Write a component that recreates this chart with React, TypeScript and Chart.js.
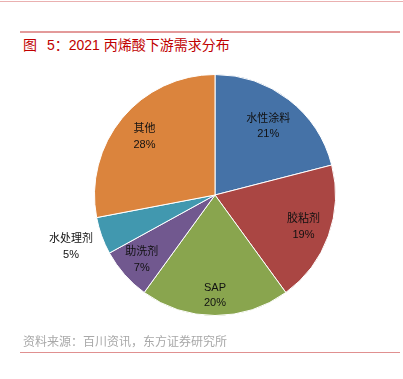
import React, { useEffect, useRef } from "react";
import { Chart, registerables } from "chart.js";

Chart.register(...registerables);

const categories = ["水性涂料", "胶粘剂", "SAP", "助洗剂", "水处理剂", "其他"];
const values = [21, 19, 20, 7, 5, 28];
const colors = ["#4572a7", "#aa4643", "#89a54e", "#71588f", "#4198af", "#db843d"];
const titlePrefix = "图";
const titleText = "5：2021 丙烯酸下游需求分布";
const sourceText = "资料来源：百川资讯，东方证券研究所";

// label placement (style): fraction of the radius for each slice's label
const labelRadiusFactor = [0.72, 0.78, 0.83, 0.81, 1.27, 0.76];

const FONT = '"Liberation Sans", "Noto Sans CJK SC", sans-serif';

const labelPlugin = {
  id: "sliceLabels",
  afterDatasetsDraw(chart: any) {
    const ctx = chart.ctx;
    const meta = chart.getDatasetMeta(0);
    ctx.save();
    ctx.font = `11px ${FONT}`;
    ctx.fillStyle = "#111";
    ctx.textAlign = "center";
    ctx.textBaseline = "middle";
    meta.data.forEach((arc: any, i: number) => {
      const p = arc.getProps(["x", "y", "startAngle", "endAngle", "outerRadius"], true);
      const mid = (p.startAngle + p.endAngle) / 2;
      const f = labelRadiusFactor[i];
      const cx = p.x + Math.cos(mid) * p.outerRadius * f;
      const cy = p.y + Math.sin(mid) * p.outerRadius * f;
      ctx.fillText(categories[i], cx, cy - 7.5);
      ctx.fillText(`${values[i]}%`, cx, cy + 8);
    });
    ctx.restore();
  },
};

export default function App() {
  const ref = useRef<HTMLCanvasElement | null>(null);
  useEffect(() => {
    document.body.style.margin = "0";
    const chart = new Chart(ref.current as HTMLCanvasElement, {
      type: "pie",
      data: {
        labels: categories,
        datasets: [
          {
            data: values,
            backgroundColor: colors,
            borderColor: "#ffffff",
            borderWidth: 1,
          },
        ],
      },
      options: {
        animation: false,
        responsive: false,
        maintainAspectRatio: false,
        layout: { padding: { left: 94, right: 67, top: 74, bottom: 63 } },
        plugins: {
          legend: { display: false },
          tooltip: { enabled: false },
        },
      },
      plugins: [labelPlugin],
    });
    return () => chart.destroy();
  }, []);

  return (
    <div style={{ position: "relative", width: 403, height: 379, background: "#fff", overflow: "hidden" }}>
      <div style={{ position: "absolute", left: 0, top: 1, width: 403, height: 1, background: "#eab0b0" }} />
      <div style={{ position: "absolute", left: 20, top: 31, width: 380, height: 2, background: "#e39a9a" }} />
      <div
        style={{
          position: "absolute",
          left: 23,
          top: 36,
          fontFamily: FONT,
          fontSize: 14,
          color: "#c00000",
          whiteSpace: "nowrap",
          lineHeight: "18px",
        }}
      >
        <span style={{ marginRight: 6 }}>{titlePrefix}</span> {titleText}
      </div>
      <canvas ref={ref} width={403} height={379} style={{ position: "absolute", left: 0, top: 0 }} />
      <div
        style={{
          position: "absolute",
          left: 23,
          top: 334,
          fontFamily: FONT,
          fontSize: 12,
          color: "#a8a8a8",
          whiteSpace: "nowrap",
          lineHeight: "16px",
        }}
      >
        {sourceText}
      </div>
      <div style={{ position: "absolute", left: 20, top: 352, width: 380, height: 1, background: "#e09090" }} />
    </div>
  );
}
